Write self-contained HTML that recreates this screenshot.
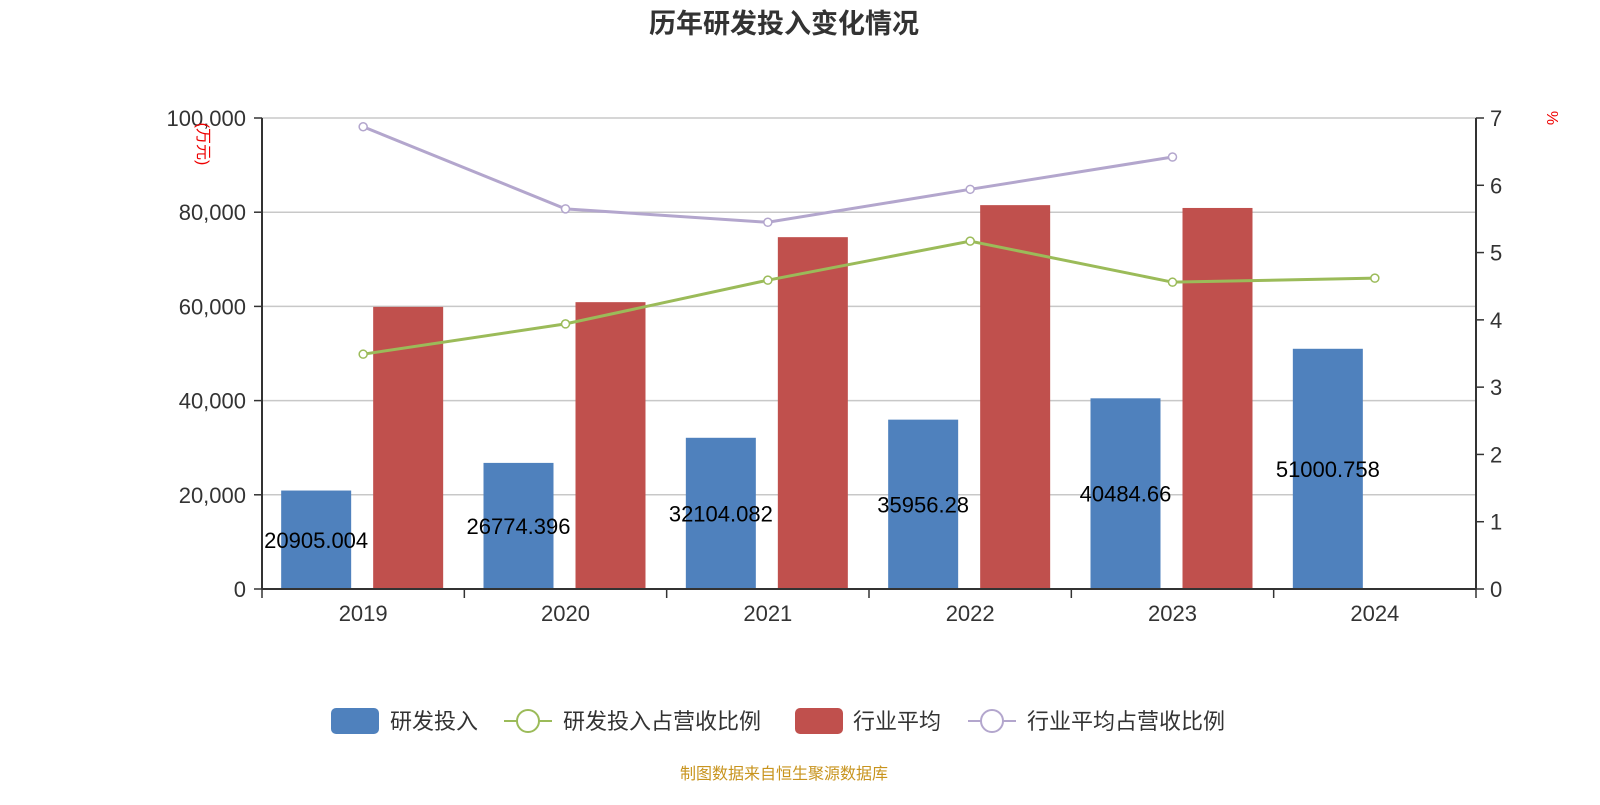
<!DOCTYPE html>
<html><head><meta charset="utf-8"><style>
body{margin:0;background:#fff;}
svg text{font-family:"Liberation Sans","Noto Sans CJK SC",sans-serif;}
</style></head><body>
<svg id="chart" width="1600" height="800" xmlns="http://www.w3.org/2000/svg">
<text x="784" y="33" text-anchor="middle" font-size="27" font-weight="bold" fill="#333">历年研发投入变化情况</text>
<g id="grid"></g><g id="bars"></g><g id="lines"></g><g id="axes"></g><g id="labels"></g>
<text transform="translate(198,144) rotate(90)" text-anchor="middle" font-size="16" fill="#e00">(万元)</text>
<text transform="translate(1547,118) rotate(90)" text-anchor="middle" font-size="16" fill="#e00">%</text>
<g font-size="22" fill="#333">
<g><rect x="331" y="708" width="48" height="26" rx="5" fill="#4f81bd"/><text x="390" y="729">研发投入</text></g>
<g><line x1="504" y1="721" x2="552" y2="721" stroke="#9bbb59" stroke-width="2"/><circle cx="528" cy="721" r="11" fill="#fff" stroke="#9bbb59" stroke-width="2"/><text x="563" y="729">研发投入占营收比例</text></g>
<g><rect x="795" y="708" width="48" height="26" rx="5" fill="#c0504d"/><text x="853" y="729">行业平均</text></g>
<g><line x1="968" y1="721" x2="1016" y2="721" stroke="#b3a6cd" stroke-width="2"/><circle cx="992" cy="721" r="11" fill="#fff" stroke="#b3a6cd" stroke-width="2"/><text x="1027" y="729">行业平均占营收比例</text></g>
</g>
<text x="784" y="779" text-anchor="middle" font-size="16" fill="#c8941e">制图数据来自恒生聚源数据库</text>
</svg>
<script>
const categories=["2019","2020","2021","2022","2023","2024"];
const rdValues=[20905.004,26774.396,32104.082,35956.28,40484.66,51000.758];
const rdLabels=["20905.004","26774.396","32104.082","35956.28","40484.66","51000.758"];
const industryAvg=[59900,60900,74700,81500,80900,null];
const rdRatio=[3.49,3.94,4.59,5.17,4.56,4.62];
const industryRatio=[6.87,5.65,5.45,5.94,6.42,null];
const leftTicks=[0,20000,40000,60000,80000,100000];
const rightTicks=[0,1,2,3,4,5,6,7];

const NS="http://www.w3.org/2000/svg";
const X0=262,X1=1476,Y0=589,Y1=118;
const bw=(X1-X0)/categories.length;
const yL=v=>Y0-(v/100000)*(Y0-Y1);
const yR=v=>Y0-(v/7)*(Y0-Y1);
const xc=i=>X0+bw*(i+0.5);
function mk(tag,attrs,parent,text){const e=document.createElementNS(NS,tag);for(const k in attrs)e.setAttribute(k,attrs[k]);if(text!==undefined)e.textContent=text;document.getElementById(parent).appendChild(e);return e;}
const fmt=v=>v.toLocaleString('en-US');
leftTicks.forEach(t=>{
  if(t>0){const g=mk('line',{x1:X0,x2:X1,y1:yL(t),y2:yL(t),stroke:'#c8c8c8','stroke-width':1.5},'grid');
  
  }
  const tk=mk('line',{x1:X0-8,x2:X0,y1:yL(t),y2:yL(t),stroke:'#333','stroke-width':1.5},'axes');
  
  
  const l=mk('text',{x:X0-16,y:yL(t)+8,'text-anchor':'end','font-size':22,fill:'#333'},'axes',fmt(t));
  
  
});
rightTicks.forEach(t=>{
  const tk=mk('line',{x1:X1,x2:X1+8,y1:yR(t),y2:yR(t),stroke:'#333','stroke-width':1.5},'axes');
  
  
  const l=mk('text',{x:X1+14,y:yR(t)+8,'font-size':22,fill:'#333'},'axes',String(t));
  
  
});
let a=mk('line',{x1:X0,x2:X0,y1:Y1,y2:Y0,stroke:'#333','stroke-width':2},'axes');


a=mk('line',{x1:X1,x2:X1,y1:Y1,y2:Y0,stroke:'#333','stroke-width':2},'axes');


a=mk('line',{x1:X0,x2:X1,y1:Y0,y2:Y0,stroke:'#333','stroke-width':2},'axes');


for(let i=0;i<=categories.length;i++){
  const t=mk('line',{x1:X0+bw*i,x2:X0+bw*i,y1:Y0,y2:Y0+9,stroke:'#333','stroke-width':1.5},'axes');
  
  
}
categories.forEach((c,i)=>{
  const l=mk('text',{x:xc(i),y:Y0+32,'text-anchor':'middle','font-size':22,fill:'#333'},'axes',c);
  
  
  const b=mk('rect',{x:xc(i)-82,y:yL(rdValues[i]),width:70,height:Y0-yL(rdValues[i]),fill:'#4f81bd'},'bars');
  
  
  if(industryAvg[i]!=null){
    const r=mk('rect',{x:xc(i)+10,y:yL(industryAvg[i]),width:70,height:Y0-yL(industryAvg[i]),fill:'#c0504d'},'bars');
    
    
  }
  const v=mk('text',{x:xc(i)-47,y:(yL(rdValues[i])+Y0)/2+8,'text-anchor':'middle','font-size':22,fill:'#000'},'labels',rdLabels[i]);
  
  
});
function line(vals,color,name){
  const pts=[];vals.forEach((v,i)=>{if(v!=null)pts.push([xc(i),yR(v)]);});
  const p=mk('polyline',{points:pts.map(p=>p.join(',')).join(' '),fill:'none',stroke:color,'stroke-width':3},'lines');
  
  
  pts.forEach(q=>{const c=mk('circle',{cx:q[0],cy:q[1],r:4,fill:'#fff',stroke:color,'stroke-width':1.5},'lines');
  
  });
}
line(industryRatio,'#b3a6cd','industry-ratio');
line(rdRatio,'#9bbb59','rd-ratio');
</script>
</body></html>
